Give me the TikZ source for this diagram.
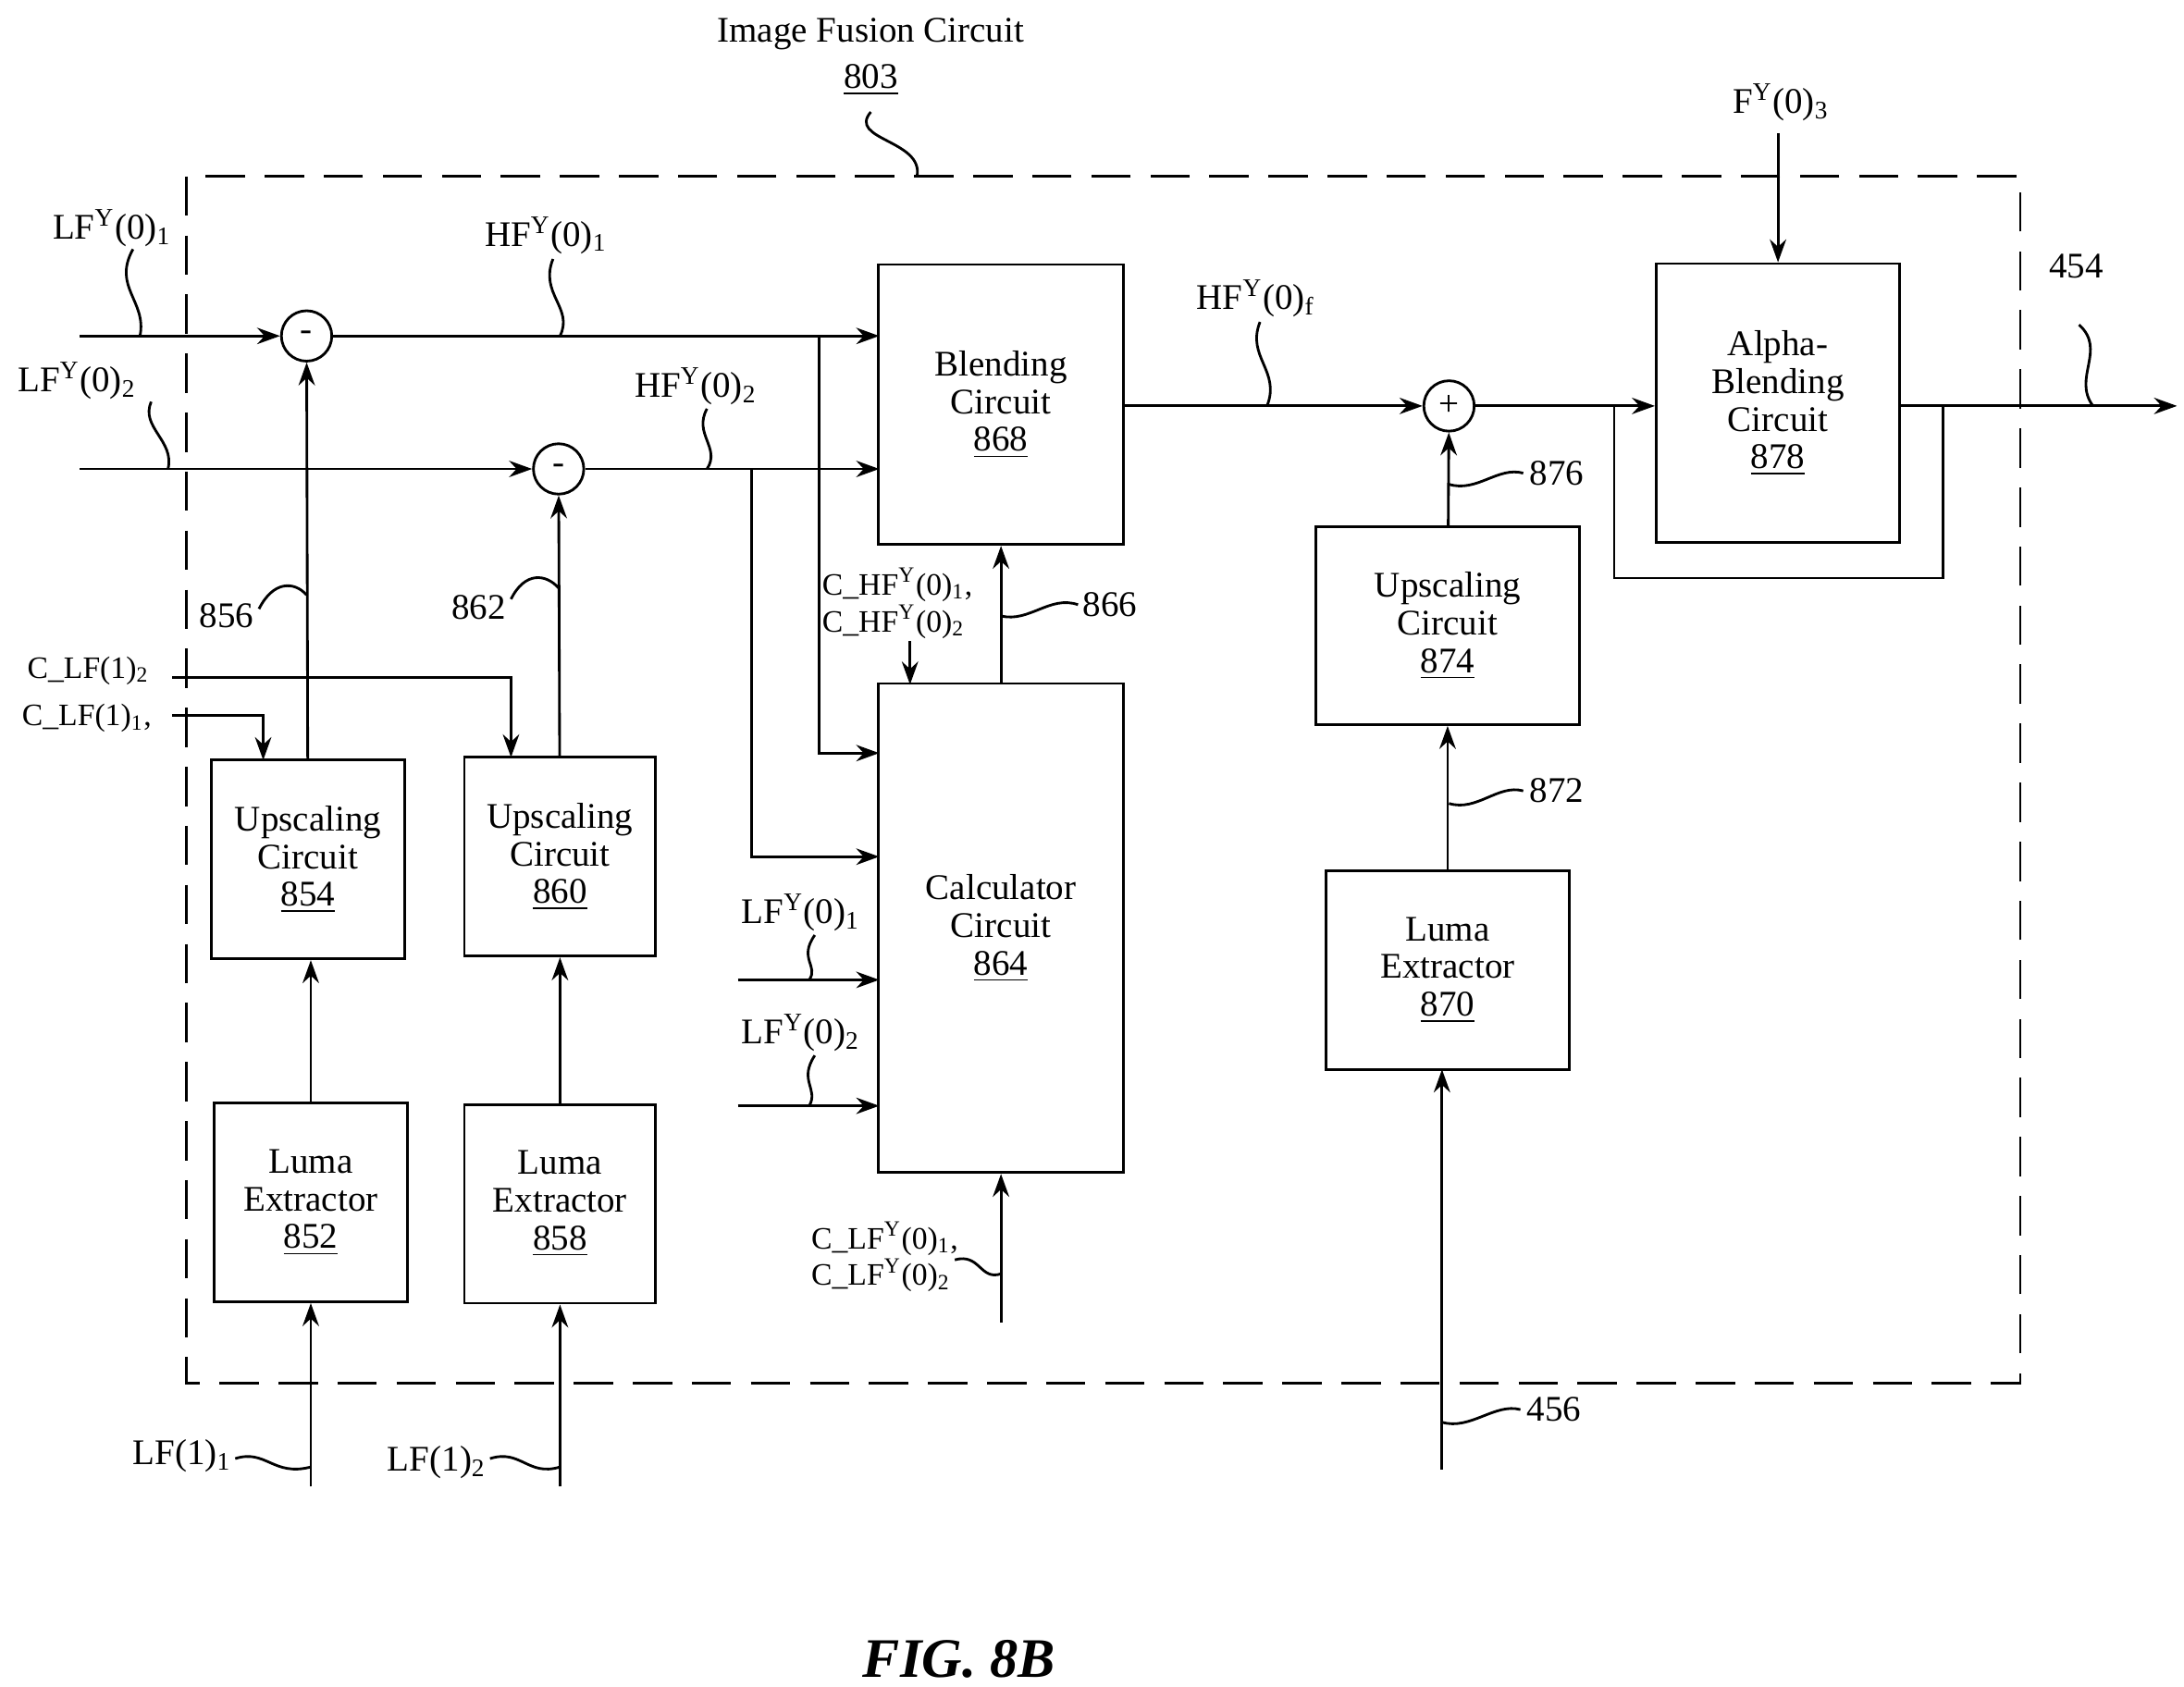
\documentclass[tikz,border=0pt]{standalone}
\usepackage{fontspec}
\setmainfont{Liberation Serif}
\usetikzlibrary{arrows.meta}
\begin{document}
\begin{tikzpicture}[x=0.015cm,y=-0.015cm,
  font=\fontsize{11}{11.5}\selectfont,
  blk/.style={draw,thick,align=center,inner sep=0pt},
  op/.style={draw,thick,circle,minimum size=0.54cm,inner sep=0pt},
  sig/.style={thick,-{Stealth[length=7pt,width=5pt]}},
  squig/.style={thick},
  lbl/.style={inner sep=1pt}]
\useasboundingbox (0,0) rectangle (1560,1205);

% Cadre du circuit
\draw[thick,dash pattern=on 12pt off 6pt] (133,126) rectangle (1443,988);
\node (title) at (622,24) {Image Fusion Circuit};
\node (n803) at (622,57) {\underline{803}};
\draw[squig] (622,80) .. controls (605,100) and (660,100) .. (655,126);

% Blocs
\node[blk,minimum width=2.07cm,minimum height=2.13cm] (up854) at (220,614) {Upscaling\\Circuit\\\underline{854}};
\node[blk,minimum width=2.05cm,minimum height=2.13cm] (up860) at (400,612) {Upscaling\\Circuit\\\underline{860}};
\node[blk,minimum width=2.07cm,minimum height=2.13cm] (le852) at (222,859) {Luma\\Extractor\\\underline{852}};
\node[blk,minimum width=2.05cm,minimum height=2.13cm] (le858) at (400,860) {Luma\\Extractor\\\underline{858}};
\node[blk,minimum width=2.63cm,minimum height=3cm] (bl868) at (715,289) {Blending\\Circuit\\\underline{868}};
\node[blk,minimum width=2.63cm,minimum height=5.24cm] (ca864) at (715,663) {Calculator\\Circuit\\\underline{864}};
\node[blk,minimum width=2.82cm,minimum height=2.12cm] (up874) at (1034,447) {Upscaling\\Circuit\\\underline{874}};
\node[blk,minimum width=2.61cm,minimum height=2.13cm] (le870) at (1034,693) {Luma\\Extractor\\\underline{870}};
\node[blk,minimum width=2.61cm,minimum height=2.99cm] (ab878) at (1270,288) {Alpha-\\Blending\\Circuit\\\underline{878}};

% Operateurs
\node[op] (sub1) at (219,240) {-};
\node[op] (sub2) at (399,335) {-};
\node[op] (add) at (1035,290) {+};

% Entrees LF
\coordinate (inA) at (57,240);
\coordinate (inB) at (57,335);
\draw[sig] (inA) -- (sub1);
\draw[sig] (inB) -- (sub2);
\node[lbl] (lfa) at (80,163) {LF\textsuperscript{Y}(0)\textsubscript{1}};
\node[lbl] (lfb) at (55,272) {LF\textsuperscript{Y}(0)\textsubscript{2}};
\draw[squig] (95,178) .. controls (80,205) and (105,215) .. (100,240);
\draw[squig] (108,287) .. controls (100,305) and (125,315) .. (120,335);

% Sorties HF
\coordinate (hfa) at (628,240);
\coordinate (hfb) at (628,335);
\draw[sig] (sub1) -- (hfa);
\draw[sig] (sub2) -- (hfb);
\node[lbl] (hfal) at (390,168) {HF\textsuperscript{Y}(0)\textsubscript{1}};
\node[lbl] (hfbl) at (497,276) {HF\textsuperscript{Y}(0)\textsubscript{2}};
\draw[squig] (395,185) .. controls (385,210) and (410,220) .. (400,240);
\draw[squig] (505,292) .. controls (495,310) and (515,320) .. (505,335);
\coordinate (caA) at (628,538);
\coordinate (caB) at (628,612);
\draw[sig] (585,240) -- (585,538) -- (caA);
\draw[sig] (537,335) -- (537,612) -- (caB);

% Chaines luma / upscaling
\draw[sig] (up854) -- (sub1);
\draw[sig] (up860) -- (sub2);
\draw[sig] (le852) -- (le852 |- up854.south);
\draw[sig] (le858) -- (up860);
\node[lbl] (n856) at (162,440) {856};
\node[lbl] (n862) at (342,434) {862};
\draw[squig] (185,435) .. controls (195,415) and (210,415) .. (219,425);
\draw[squig] (365,428) .. controls (375,408) and (390,410) .. (399,420);

% Entrees C_LF(1)
\node[lbl,font=\fontsize{9.5}{10}\selectfont] (clf2) at (63,479) {C\_LF(1)\textsubscript{2}};
\node[lbl,font=\fontsize{9.5}{10}\selectfont] (clf1) at (62,513) {C\_LF(1)\textsubscript{1},};
\coordinate (u860in) at (365,541);
\coordinate (u854in) at (188,543);
\draw[sig] (123,484) -- (365,484) -- (u860in);
\draw[sig] (123,511) -- (188,511) -- (u854in);

% Entrees LF(1)
\coordinate (lf1a) at (222,1062);
\coordinate (lf1b) at (400,1062);
\draw[sig] (lf1a) -- (le852);
\draw[sig] (lf1b) -- (le858);
\node[lbl] (lf1al) at (130,1040) {LF(1)\textsubscript{1}};
\node[lbl] (lf1bl) at (312,1045) {LF(1)\textsubscript{2}};
\draw[squig] (168,1042) .. controls (190,1035) and (195,1055) .. (222,1048);
\draw[squig] (350,1042) .. controls (372,1035) and (377,1055) .. (400,1048);

% Entrees LF du calculateur
\coordinate (cin1) at (527,700);
\coordinate (cin2) at (527,790);
\draw[sig] (cin1) -- (628,700);
\draw[sig] (cin2) -- (628,790);
\node[lbl] (lfc1) at (572,652) {LF\textsuperscript{Y}(0)\textsubscript{1}};
\node[lbl] (lfc2) at (572,738) {LF\textsuperscript{Y}(0)\textsubscript{2}};
\draw[squig] (582,668) .. controls (570,685) and (585,690) .. (578,700);
\draw[squig] (582,754) .. controls (570,772) and (585,778) .. (578,790);

% C_HF et C_LF
\node[lbl,font=\fontsize{9.5}{10}\selectfont,align=left] (chf) at (641,431) {C\_HF\textsuperscript{Y}(0)\textsubscript{1},\\C\_HF\textsuperscript{Y}(0)\textsubscript{2}};
\draw[sig] (650,458) -- (650,489);
\node[lbl,font=\fontsize{9.5}{10}\selectfont,align=left] (clfy) at (632,898) {C\_LF\textsuperscript{Y}(0)\textsubscript{1},\\C\_LF\textsuperscript{Y}(0)\textsubscript{2}};
\coordinate (cbot) at (715,945);
\draw[sig] (cbot) -- (ca864);
\draw[squig] (682,900) .. controls (700,895) and (700,915) .. (715,910);
\draw[sig] (ca864) -- (bl868);
\node[lbl] (n866) at (793,432) {866};
\draw[squig] (770,432) .. controls (750,425) and (735,445) .. (715,440);

% Chemin de sortie
\draw[sig] (bl868.east |- add) -- (add);
\node[lbl] (hff) at (897,213) {HF\textsuperscript{Y}(0)\textsubscript{f}};
\draw[squig] (900,230) .. controls (890,255) and (915,265) .. (905,290);
\draw[sig] (up874) -- (add);
\node[lbl] (n876) at (1112,338) {876};
\draw[squig] (1088,338) .. controls (1070,333) and (1055,352) .. (1035,346);
\draw[sig] (le870) -- (up874);
\node[lbl] (n872) at (1112,565) {872};
\draw[squig] (1088,565) .. controls (1070,560) and (1055,580) .. (1035,574);
\coordinate (in456) at (1030,1050);
\draw[sig] (in456) -- (1030,764);
\node[lbl] (n456) at (1110,1007) {456};
\draw[squig] (1086,1007) .. controls (1068,1002) and (1050,1022) .. (1030,1016);
\draw[sig] (add) -- (ab878.west |- add);
\draw[thick] (1153,290) -- (1153,413) -- (1388,413) -- (1388,290);
\coordinate (out) at (1555,290);
\draw[sig] (ab878.east |- add) -- (out);
\node[lbl] (n454) at (1483,190) {454};
\draw[squig] (1485,232) .. controls (1505,250) and (1480,270) .. (1495,290);
\node[lbl] (fy3) at (1272,73) {F\textsuperscript{Y}(0)\textsubscript{3}};
\draw[sig] (1270,95) -- (ab878);

% Legende
\node (fig) at (685,1185) {\fontsize{17}{18}\selectfont\bfseries\itshape FIG. 8B};
\end{tikzpicture}
\end{document}
